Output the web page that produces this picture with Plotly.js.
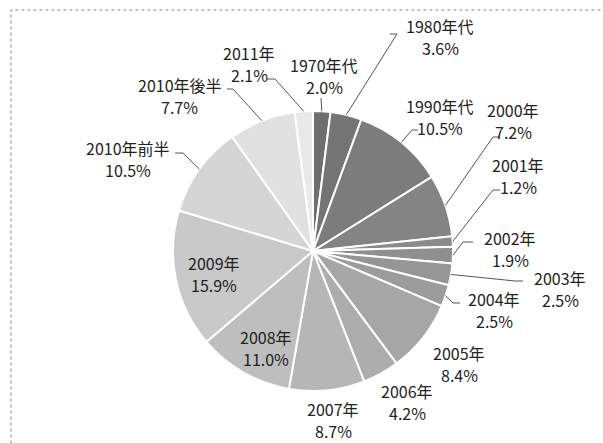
<!DOCTYPE html>
<html>
<head>
<meta charset="utf-8">
<script src="https://cdn.plot.ly/plotly-3.0.1.min.js"></script>
<style>html,body{margin:0;padding:0;background:#fff;}#chart{width:603px;height:443px;}</style>
</head>
<body>
<div id="chart"></div>
<script>
// ---- data ----
const categories = ["1970年代","1980年代","1990年代","2000年","2001年","2002年","2003年","2004年","2005年","2006年","2007年","2008年","2009年","2010年前半","2010年後半","2011年"];
const values = [2.0, 3.6, 10.5, 7.2, 1.2, 1.9, 2.5, 2.5, 8.4, 4.2, 8.7, 11.0, 15.9, 10.5, 7.7, 2.1];
const pctLabels = ["2.0%","3.6%","10.5%","7.2%","1.2%","1.9%","2.5%","2.5%","8.4%","4.2%","8.7%","11.0%","15.9%","10.5%","7.7%","2.1%"];

// ---- styles / layout (not data) ----
const sliceColors = ["#6e6e6e","#747474","#7c7c7c","#848484","#8a8a8a","#8f8f8f","#969696","#9c9c9c","#a6a6a6","#adadad","#b6b6b6","#bebebe","#c9c9c9","#d5d5d5","#e1e1e1","#e9e9e9"];
const W = 603, H = 443;
const CX = 313, CY = 251, R = 140;
// label block centres (pixels)
const labelX = [324, 440, 440, 513, 518, 510, 560, 494, 459, 407, 333, 266, 214, 128, 180, 249];
const labelY = [ 76,  37, 117, 121, 176, 249, 289, 310, 364, 402, 420, 348, 274, 159,  96,  64];
const LINE_GAP = 22;
// leader line waypoints from slice edge toward label (pixels); null = none
const leaders = [
  [[321,98]],
  [[397,34],[390,34]],
  [[412,130],[418,130]],
  [[493,137],[499,137]],
  [[493,190],[500,190]],
  [[463,242],[473,242]],
  [[515,281],[523,281]],
  [[453,303],[460,303]],
  null, null, null, null, null,
  [[183,153],[175,153]],
  [[233,89],[227,89]],
  [[275,79],[267,79]]
];

const px = x => x / W;
const py = y => 1 - y / H;
const FONT = {family:'"Noto Sans CJK JP", "Noto Sans", sans-serif', size:16, color:'#222'};

const total = values.reduce((a,b)=>a+b,0);
let cum = 0;
const shapes = [];
const annotations = [];
values.forEach((v,i) => {
  const mid = (cum + v/2) / total;
  cum += v;
  const a = mid * 2 * Math.PI;
  const ex = CX + R * Math.sin(a);
  const ey = CY - R * Math.cos(a);
  if (leaders[i]) {
    let d = `M${px(ex)},${py(ey)}`;
    leaders[i].forEach(p => { d += ` L${px(p[0])},${py(p[1])}`; });
    shapes.push({type:'path', xref:'paper', yref:'paper', path:d, line:{color:'#555', width:1}});
  }
  annotations.push({
    xref:'paper', yref:'paper', x:px(labelX[i]), y:py(labelY[i] - LINE_GAP/2),
    xanchor:'center', yanchor:'middle', showarrow:false, borderpad:0,
    text: categories[i], font:FONT
  });
  annotations.push({
    xref:'paper', yref:'paper', x:px(labelX[i]), y:py(labelY[i] + LINE_GAP/2),
    xanchor:'center', yanchor:'middle', showarrow:false, borderpad:0,
    text: pctLabels[i], font:FONT
  });
});

// dotted frame
shapes.unshift({type:'rect', xref:'paper', yref:'paper', x0:px(11), x1:1.05, y0:-0.05, y1:py(10),
  line:{color:'#888', width:1, dash:'dot'}, fillcolor:'rgba(0,0,0,0)'});

const trace = {
  type:'pie', labels:categories, values:values, sort:false, direction:'clockwise', rotation:0,
  textinfo:'none', hoverinfo:'none', showlegend:false,
  marker:{colors:sliceColors, line:{color:'#ffffff', width:2}},
  domain:{x:[(CX-R)/W,(CX+R)/W], y:[(H-CY-R)/H,(H-CY+R)/H]}
};

Plotly.newPlot('chart',[trace],{
  width:W, height:H, margin:{l:0,r:0,t:0,b:0},
  paper_bgcolor:'#fff', plot_bgcolor:'#fff', showlegend:false,
  shapes:shapes, annotations:annotations
},{displayModeBar:false, staticPlot:true});
</script>
</body>
</html>
